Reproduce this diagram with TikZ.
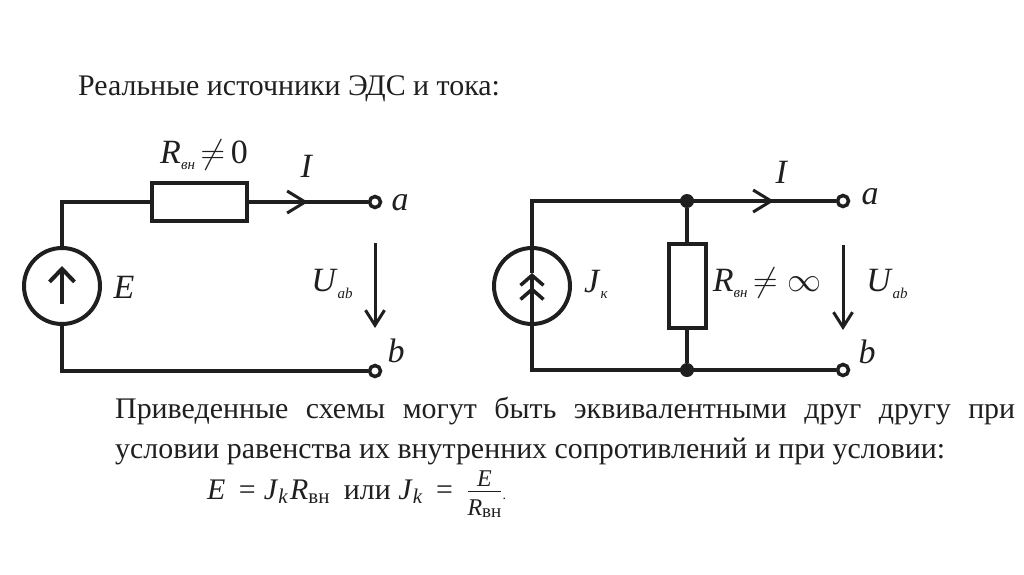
\documentclass[tikz,border=0pt]{standalone}
\usepackage{fix-cm}
\usepackage{amsmath}
\usepackage{fontspec}
\setmainfont{Liberation Serif}
\usetikzlibrary{positioning, arrows.meta}

\newcommand{\sublbl}[2]{\textit{#1}\raisebox{-0.4ex}{\fontsize{15}{15}\selectfont\textit{#2}}}
\newcommand{\mvar}[1]{\mathord{\text{\textit{#1}}}}
\newcommand{\fracvar}[2]{\text{\fontsize{24}{24}\selectfont\textit{#1}\raisebox{-0.25ex}{\fontsize{19}{19}\selectfont #2}}}

\begin{document}
\begin{tikzpicture}[x=1pt,y=-1pt,on grid,color={black!88},
  wire/.style={line width=4pt},
  thin wire/.style={line width=3pt},
  barb/.style={-{Straight Barb[length=15pt,width=19pt,line width=3pt]}},
  chevron/.style={-{Straight Barb[length=18pt,width=22pt,line width=3pt]}},
  src arrow/.style={-{Straight Barb[length=13pt,width=25pt,line width=4pt]}},
  dbl barb/.style={-{Straight Barb[length=10pt,width=23pt,line width=3.5pt]Straight Barb[length=10pt,width=23pt,line width=3.5pt]}},
  source/.style={circle,draw,line width=4pt,minimum size=76pt,inner sep=0pt},
  res/.style={rectangle,draw,line width=4pt,inner sep=0pt},
  term/.style={circle,draw,fill=white,line width=3.5pt,minimum size=11pt,inner sep=0pt},
  dot/.style={circle,fill,minimum size=14pt,inner sep=0pt},
  lbl/.style={inner sep=0pt,font=\fontsize{34}{34}\selectfont},
  txt/.style={inner sep=0pt,anchor=base west,font=\fontsize{29.9}{30}\selectfont}]
\useasboundingbox (0,0) rectangle (1024,574);

  %--- text ---
  \node[txt] (title) at (78,95) {Реальные источники ЭДС и тока:};
  \node[txt] (line1) at (115,418) {\makebox[900pt][s]{Приведенные схемы могут быть эквивалентными друг другу при}};
  \node[txt] (line2) at (115,458) {условии равенства их внутренних сопротивлений и при условии:};
  \node[txt] (formula) at (207,499) {$\mvar{E} \mathrel{\text{\,=}} \mvar{J}_{\mvar{k}}\mkern1mu \mvar{R}_{\text{вн}}$\hspace{14pt}или $\mvar{J}_{\mvar{k}} \mathrel{\text{\,=}}\, \frac{\fracvar{E}{}\rule[-4pt]{0pt}{1pt}}{\rule{0pt}{22pt}\fracvar{R}{вн}}$\raisebox{0pt}{\fontsize{14}{14}\selectfont.}};

  %--- left circuit ---
  \node[source] (E) at (62,286) {};
  \node[res,minimum width=95pt,minimum height=38pt] (R1) at (199,202) {};
  \node[term] (a1) at (375,202) {};
  \node[term] (b1) [below=169pt of a1] {};
  \coordinate (c1) at (E |- R1);
  \coordinate (c2) at (E |- b1);
  \coordinate (i1) at (308,202);
  \coordinate[below=18pt of E] (e1);
  \coordinate[above=20pt of E] (e2);
  \coordinate[below=41pt of a1] (u1);
  \coordinate[above=43pt of b1] (u2);

  \draw[wire] (E.north) -- (c1) -- (R1.west);
  \draw[wire] (E.south) -- (c2) -- (b1.west);
  \draw[wire] (R1.east) -- (a1.west);
  \draw[thin wire,chevron] (R1.east) -- (i1);
  \draw[wire,src arrow] (e1) -- (e2);
  \draw[thin wire,barb] (u1) -- (u2);

  \node[lbl] (R1lbl) at (204,155) {\sublbl{R}{вн}$\,\neq\,$0};
  \node[lbl] (I1) at (307,166) {\textit{I}};
  \node[lbl] (E1) at (124,287) {\textit{E}};
  \node[lbl] (U1) at (332,284) {\sublbl{U}{ab}};
  \node[lbl] (alb1) at (400,203) {\textit{a}};
  \node[lbl] (blb1) at (396,351) {\textit{b}};

  %--- right circuit ---
  \node[source] (J) at (532,286) {};
  \node[dot] (d1) at (687,201) {};
  \node[dot] (d2) [below=169pt of d1] {};
  \node[res,minimum width=37pt,minimum height=84pt] (R2) at (687,286) {};
  \node[term] (a2) at (843,201) {};
  \node[term] (b2) [below=169pt of a2] {};
  \coordinate (c3) at (J |- d1);
  \coordinate (c4) at (J |- d2);
  \coordinate (i2) at (774,201);
  \coordinate[above=13pt of J] (j1);
  \coordinate[below=44pt of a2] (u3);
  \coordinate[above=40pt of b2] (u4);

  \draw[wire] (a2.west) -- (d1.center) -- (c3) -- (J.north);
  \draw[wire] (b2.west) -- (d2.center) -- (c4) -- (J.south);
  \draw[wire] (d1) -- (R2.north);
  \draw[wire] (R2.south) -- (d2);
  \draw[wire] (J.north) -- (j1);
  \draw[wire,dbl barb] (J.south) -- (j1);
  \draw[thin wire,chevron] (d1) -- (i2);
  \draw[thin wire,barb] (u3) -- (u4);

  \node[lbl] (R2lbl) at (767,283) {\sublbl{R}{вн}$\,\neq\infty$};
  \node[lbl] (I2) at (782,172) {\textit{I}};
  \node[lbl] (Jk) at (596,284) {\sublbl{J}{к}};
  \node[lbl] (U2) at (887,284) {\sublbl{U}{ab}};
  \node[lbl] (alb2) at (870,197) {\textit{a}};
  \node[lbl] (blb2) at (867,352) {\textit{b}};
\end{tikzpicture}
\end{document}
